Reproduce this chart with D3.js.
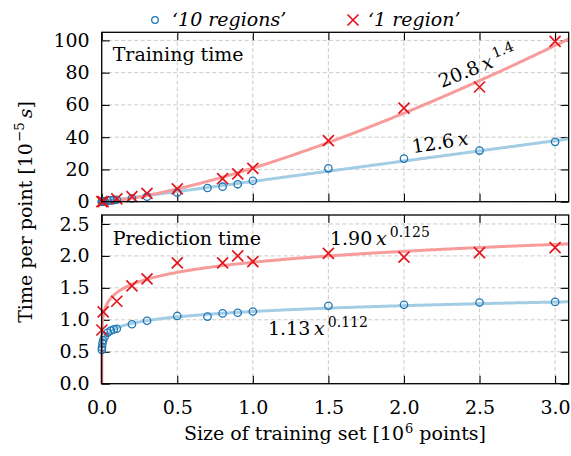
<!DOCTYPE html>
<html>
<head>
<meta charset="utf-8">
<script src="https://cdn.jsdelivr.net/npm/d3@7"></script>
<style>
body { margin: 0; background: #fff; }
text { font-family: "DejaVu Serif", serif; fill: #000; }
</style>
</head>
<body>
<div class="chart"></div>
<script>
const width = 571;
const height = 456;

// ticks
const xTicks = [0, 0.5, 1.0, 1.5, 2.0, 2.5, 3.0];
const trainTicks = [0, 20, 40, 60, 80, 100];
const predTicks = [0, 0.5, 1.0, 1.5, 2.0, 2.5];

// '10 regions' (blue circles)
const blueX = [0.001, 0.002, 0.005, 0.01, 0.02, 0.04, 0.06, 0.08, 0.1, 0.2, 0.3, 0.5, 0.7, 0.8, 0.9, 1.0, 1.5, 2.0, 2.5, 3.0];
const blueTrain = [0.0, 0.0, 0.1, 0.1, 0.3, 0.5, 0.8, 1.0, 1.2, 2.1, 3.1, 5.6, 8.5, 9.3, 10.8, 13.0, 20.7, 26.7, 31.7, 37.1];
const bluePred = [0.53, 0.57, 0.63, 0.68, 0.74, 0.80, 0.83, 0.85, 0.86, 0.93, 0.985, 1.06, 1.05, 1.10, 1.11, 1.13, 1.22, 1.235, 1.27, 1.28];

// '1 region' (red crosses)
const redX = [0.001, 0.01, 0.1, 0.2, 0.3, 0.5, 0.8, 0.9, 1.0, 1.5, 2.0, 2.5, 3.0];
const redTrain = [0.0, 0.1, 1.7, 3.1, 5.2, 7.9, 14.3, 17.2, 20.7, 37.9, 58.0, 71.1, 99.4];
const redPred = [0.84, 1.125, 1.29, 1.53, 1.64, 1.89, 1.89, 2.0, 1.91, 2.04, 1.98, 2.05, 2.13];

// power-law fits a * x^b : [blue, red]
const trainFitA = [12.6, 20.8];
const trainFitB = [1, 1.4];
const predFitA = [1.13, 1.90];
const predFitB = [0.112, 0.125];

const blue = '#1f77b4';
const red = '#e3161d';
const blueFit = '#a3cde4';
const redFit = '#f89b9b';

const svg = d3.select('.chart').append('svg')
    .attr('width', width)
    .attr('height', height)
    .attr('viewBox', `0 0 ${width} ${height}`);

const x = d3.scaleLinear().domain([0, 3.09]).range([101.7, 568.7]);

// sample positions for the fitted curves (dense near zero)
const fitXs = d3.range(0, 0.05, 0.0002).concat(d3.range(0.05, 3.09, 0.01), [3.09]);

function drawPanel(y, yTicks, fmt, blueY, redY, fitA, fitB, showX, title, titleY) {
    const g = svg.append('g');
    const [x0, x1] = x.range();
    const [yb, yt] = y.range();

    /* grid */
    g.selectAll('.vgrid').data(xTicks).enter().append('line')
        .attr('x1', d => x(d)).attr('x2', d => x(d))
        .attr('y1', yb).attr('y2', yt)
        .attr('stroke', '#c4c4c4').attr('stroke-width', 0.9)
        .attr('stroke-dasharray', '4,2.5');
    g.selectAll('.hgrid').data(yTicks).enter().append('line')
        .attr('x1', x0).attr('x2', x1)
        .attr('y1', d => y(d)).attr('y2', d => y(d))
        .attr('stroke', '#c4c4c4').attr('stroke-width', 0.9)
        .attr('stroke-dasharray', '4,2.5');

    /* axes, ticks pointing inward on all sides */
    const left = g.append('g').attr('transform', `translate(${x0},0)`)
        .call(d3.axisLeft(y).tickValues(yTicks).tickSize(-8).tickPadding(12).tickFormat(fmt));
    const right = g.append('g').attr('transform', `translate(${x1},0)`)
        .call(d3.axisRight(y).tickValues(yTicks).tickSize(-8).tickFormat(''));
    const top = g.append('g').attr('transform', `translate(0,${yt})`)
        .call(d3.axisTop(x).tickValues(xTicks).tickSize(-8).tickFormat(''));
    const bottom = g.append('g').attr('transform', `translate(0,${yb})`)
        .call(d3.axisBottom(x).tickValues(xTicks).tickSize(-8).tickPadding(17)
            .tickFormat(showX ? d3.format('.1f') : ''));
    [left, right, top, bottom].forEach(a => {
        a.select('.domain').remove();
        a.attr('font-family', null).attr('font-size', null);
        a.selectAll('line').attr('stroke', '#000').attr('stroke-width', 1.1);
        a.selectAll('text').style('font-size', '19px').attr('fill', '#000');
    });

    /* fitted curves */
    const line = d3.line().x(d => x(d[0])).y(d => y(d[1]));
    [0, 1].forEach(i => {
        g.append('path')
            .datum(fitXs.map(v => [v, fitA[i] * Math.pow(v, fitB[i])]))
            .attr('d', line)
            .attr('fill', 'none')
            .attr('stroke', i === 0 ? blueFit : redFit)
            .attr('stroke-width', 3);
    });

    /* markers */
    g.selectAll('.circ').data(blueX).enter().append('circle')
        .attr('cx', d => x(d))
        .attr('cy', (d, i) => y(blueY[i]))
        .attr('r', 3.7)
        .attr('fill', 'none')
        .attr('stroke', blue)
        .attr('stroke-width', 1.3);
    g.selectAll('.cross').data(redX).enter().append('path')
        .attr('transform', (d, i) => `translate(${x(d)},${y(redY[i])})`)
        .attr('d', 'M-5.5,-5.5L5.5,5.5M-5.5,5.5L5.5,-5.5')
        .attr('stroke', red)
        .attr('stroke-width', 1.7);

    /* frame */
    g.append('rect')
        .attr('x', x0).attr('y', yt)
        .attr('width', x1 - x0).attr('height', yb - yt)
        .attr('fill', 'none').attr('stroke', '#000').attr('stroke-width', 1.3);

    g.append('text')
        .attr('x', x0 + 11).attr('y', yt + titleY)
        .style('font-size', '19px')
        .text(title);
    return g;
}

const yTop = d3.scaleLinear().domain([0, 105]).range([201.7, 32.3]);
const yBot = d3.scaleLinear().domain([0, 2.64]).range([383.7, 215]);

const gTop = drawPanel(yTop, trainTicks, d3.format('d'), blueTrain, redTrain, trainFitA, trainFitB, false, 'Training time', 29);
const gBot = drawPanel(yBot, predTicks, d3.format('.1f'), bluePred, redPred, predFitA, predFitB, true, 'Prediction time', 30);

/* formula annotations */
function formula(g, px, py, angle, coef, exp) {
    const t = g.append('text')
        .attr('transform', `translate(${px},${py}) rotate(${angle})`)
        .style('font-size', '19px');
    t.append('tspan').text(coef + '\u2009');
    t.append('tspan').style('font-style', 'italic').text('x');
    if (exp !== null) {
        t.append('tspan').attr('dx', 3).attr('dy', -8).style('font-size', '14px').text(exp);
    }
}
formula(gTop, x(2.25), yTop(70.4), -22, trainFitA[1].toFixed(1), trainFitB[1].toFixed(1));
formula(gTop, x(2.06), yTop(30), -9, trainFitA[0].toFixed(1), null);
formula(gBot, x(1.51), yBot(2.17), 0, predFitA[1].toFixed(2), predFitB[1].toFixed(3));
formula(gBot, x(1.10), yBot(0.76), 0, predFitA[0].toFixed(2), predFitB[0].toFixed(3));

/* legend */
const legend = svg.append('g');
legend.append('circle')
    .attr('cx', 155).attr('cy', 20).attr('r', 3.3)
    .attr('fill', 'none').attr('stroke', blue).attr('stroke-width', 1.3);
legend.append('text')
    .attr('x', 172).attr('y', 26)
    .style('font-size', '19px').style('font-style', 'italic')
    .text('\u201810 regions\u2019');
legend.append('path')
    .attr('transform', 'translate(353,20)')
    .attr('d', 'M-5.5,-5.5L5.5,5.5M-5.5,5.5L5.5,-5.5')
    .attr('stroke', red).attr('stroke-width', 1.7);
legend.append('text')
    .attr('x', 368).attr('y', 26)
    .style('font-size', '19px').style('font-style', 'italic')
    .text('\u20181 region\u2019');

/* axis labels */
const yl = svg.append('text')
    .attr('transform', 'translate(31.5,212) rotate(-90)')
    .attr('text-anchor', 'middle')
    .style('font-size', '19px');
yl.append('tspan').text('Time per point [10');
yl.append('tspan').attr('dx', 1).attr('dy', -8).style('font-size', '13.5px').text('\u22125');
yl.append('tspan').attr('dy', 8).text('\u2009');
yl.append('tspan').style('font-style', 'italic').text('s');
yl.append('tspan').text(']');

const xl = svg.append('text')
    .attr('x', 335).attr('y', 440)
    .attr('text-anchor', 'middle')
    .style('font-size', '19px');
xl.append('tspan').text('Size of training set [10');
xl.append('tspan').attr('dx', 1).attr('dy', -7).style('font-size', '13px').text('6');
xl.append('tspan').attr('dy', 7).text(' points]');
</script>
</body>
</html>
